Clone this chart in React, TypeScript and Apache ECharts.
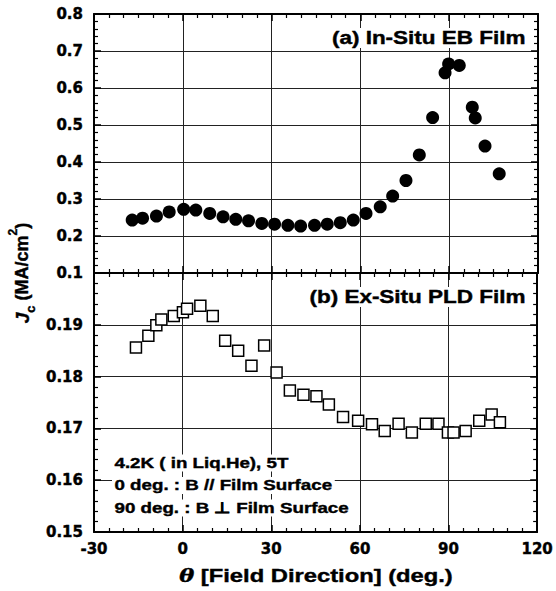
import React, { useEffect, useRef } from "react";
import * as echarts from "echarts";

// (a) In-situ EB film: field angle (deg.) and Jc (MA/cm^2)
const ebAngle = [-17.1, -13.6, -8.9, -4.6, 0.3, 4.4, 9.1, 13.6, 17.9, 22.2, 26.7, 31.0, 35.5, 39.8, 44.5, 48.8, 53.2, 57.6, 61.9, 66.7, 70.9, 75.4, 79.9, 84.4, 88.6, 89.8, 93.4, 97.8, 98.8, 102.1, 106.9];
const ebJc = [0.243, 0.248, 0.254, 0.265, 0.272, 0.27, 0.261, 0.252, 0.245, 0.241, 0.234, 0.232, 0.229, 0.227, 0.229, 0.232, 0.236, 0.243, 0.261, 0.279, 0.308, 0.35, 0.419, 0.52, 0.641, 0.665, 0.661, 0.548, 0.519, 0.443, 0.368];

// (b) Ex-situ PLD film
const pldAngle = [-15.8, -11.6, -8.9, -7.2, -3.0, 0.1, 1.5, 6.0, 10.2, 14.4, 18.8, 23.3, 27.6, 31.8, 36.3, 40.9, 45.3, 49.5, 54.3, 59.4, 64.1, 68.4, 73.1, 77.6, 82.3, 86.6, 89.8, 91.7, 95.8, 100.4, 104.6, 107.4];
const pldJc = [0.1856, 0.1879, 0.1899, 0.191, 0.1917, 0.1924, 0.1931, 0.1937, 0.1917, 0.1869, 0.185, 0.1821, 0.186, 0.1808, 0.1773, 0.1765, 0.1762, 0.1746, 0.1722, 0.1715, 0.1708, 0.1695, 0.1709, 0.1692, 0.1709, 0.1709, 0.1692, 0.1692, 0.1695, 0.1715, 0.1727, 0.1712];

const xTicks = { min: -30, max: 120, interval: 30 };
const topTicks = { min: 0.1, max: 0.8, interval: 0.1 };
const bottomTicks = { min: 0.15, max: 0.2, interval: 0.01 };

const panelLabels = ["(a) In-Situ EB Film", "(b) Ex-Situ PLD Film"];
const noteLines = ["4.2K ( in Liq.He), 5T", "0 deg. : B // Film Surface", "90 deg. : B \u22A5 Film Surface"];
const xTitle = "[Field Direction] (deg.)";

const FONT = "'Liberation Sans', Arial, Helvetica, sans-serif";
const WIDE = "'DejaVu Sans', 'Liberation Sans', sans-serif";
// wide, heavy lettering of the figure
const STRETCH = 1.25;

const axisLine = { show: true, onZero: false, lineStyle: { color: "#000", width: 2 } };
const tick = { show: true, inside: true, length: 7, lineStyle: { color: "#000", width: 1.5 } };
const minor = (n: number) => ({ show: true, splitNumber: n, length: 4, lineStyle: { color: "#000", width: 1.2 } });
const grid = { show: true, lineStyle: { color: "#222", width: 1 } };

function xAxis(gridIndex: number, position: string, labels: boolean, split: boolean) {
  return {
    type: "value",
    gridIndex,
    position,
    ...xTicks,
    axisLine,
    axisTick: tick,
    minorTick: minor(6),
    splitLine: split ? grid : { show: false },
    axisLabel: labels
      ? { show: true, color: "#000", fontFamily: WIDE, fontWeight: "bold", fontSize: 15, margin: 9, textBorderColor: "#000", textBorderWidth: 0.4 }
      : { show: false },
  };
}

function yAxis(gridIndex: number, position: string, range: any, labels: boolean, split: boolean, fmt?: (v: number) => string) {
  return {
    type: "value",
    gridIndex,
    position,
    ...range,
    axisLine,
    axisTick: tick,
    minorTick: minor(5),
    splitLine: split ? grid : { show: false },
    axisLabel: labels
      ? { show: true, color: "#000", fontFamily: WIDE, fontWeight: "bold", fontSize: 15, margin: 11, formatter: fmt, textBorderColor: "#000", textBorderWidth: 0.4 }
      : { show: false },
  };
}

function label(text: string, x: number, y: number, size: number, align: string) {
  return {
    type: "text",
    x,
    y,
    z: 50,
    scaleX: STRETCH,
    style: {
      text,
      fill: "#000",
      font: `bold ${size}px ${FONT}`,
      align,
      verticalAlign: "middle",
      backgroundColor: "#fff",
      padding: [1, 2, 1, 2],
      stroke: "#000",
      lineWidth: 0.4,
    },
  };
}

export default function App() {
  const ref = useRef<HTMLDivElement>(null);

  useEffect(() => {
    if (!ref.current) return;
    const chart = echarts.init(ref.current, null, { renderer: "svg" });
    const left = 94;
    const width = 444;
    const top = 14;
    const h = 259;

    chart.setOption({
      animation: false,
      backgroundColor: "#fff",
      grid: [
        { left, top, width, height: h },
        { left, top: top + h, width, height: h },
      ],
      xAxis: [
        xAxis(0, "bottom", false, true),
        xAxis(0, "top", false, false),
        xAxis(1, "bottom", true, true),
        xAxis(1, "top", false, false),
      ],
      yAxis: [
        yAxis(0, "left", topTicks, true, true, (v: number) => v.toFixed(1)),
        yAxis(0, "right", topTicks, false, false),
        yAxis(1, "left", bottomTicks, true, true, (v: number) => (v > 0.1995 ? "" : v.toFixed(2))),
        yAxis(1, "right", bottomTicks, false, false),
      ],
      series: [
        {
          type: "scatter",
          xAxisIndex: 0,
          yAxisIndex: 0,
          symbol: "circle",
          symbolSize: 13,
          itemStyle: { color: "#000", opacity: 1 },
          data: ebAngle.map((a, i) => [a, ebJc[i]]),
          z: 5,
        },
        {
          type: "scatter",
          xAxisIndex: 2,
          yAxisIndex: 2,
          symbol: "rect",
          symbolSize: 11,
          itemStyle: { color: "#fff", borderColor: "#000", borderWidth: 1.5, opacity: 1 },
          data: pldAngle.map((a, i) => [a, pldJc[i]]),
          z: 5,
        },
      ],
      graphic: [
        label(panelLabels[0], 528, 38, 18, "right"),
        label(panelLabels[1], 528, 297, 18, "right"),
        ...noteLines.map((t, i) => label(t, 112, 463 + i * 22.5, 15, "left")),
        {
          type: "text",
          x: 316,
          y: 576,
          z: 50,
          scaleX: STRETCH,
          style: {
            text: "{i|\u03B8} " + xTitle,
            align: "center",
            verticalAlign: "middle",
            fill: "#000",
            stroke: "#000",
            lineWidth: 0.4,
            rich: {
              i: { fontFamily: "'DejaVu Serif', serif", fontWeight: "bold", fontStyle: "italic", fontSize: 18, fill: "#000" },
            },
            font: `bold 19px ${FONT}`,
          },
        },
        {
          type: "text",
          x: 22,
          y: 273,
          rotation: Math.PI / 2,
          z: 50,
          style: {
            text: "{j|J}{c|c}{t| (MA/cm}{s|2}{t|)}",
            align: "center",
            verticalAlign: "middle",
            fill: "#000",
            stroke: "#000",
            lineWidth: 0.4,
            rich: {
              j: { fontFamily: FONT, fontWeight: "bold", fontStyle: "italic", fontSize: 19, lineHeight: 30, verticalAlign: "middle", fill: "#000" },
              c: { fontFamily: FONT, fontWeight: "bold", fontSize: 13, lineHeight: 30, verticalAlign: "bottom", fill: "#000" },
              t: { fontFamily: FONT, fontWeight: "bold", fontSize: 18, lineHeight: 30, verticalAlign: "middle", fill: "#000" },
              s: { fontFamily: FONT, fontWeight: "bold", fontSize: 12, lineHeight: 30, verticalAlign: "top", fill: "#000" },
            },
          },
        },
      ],
    });
    return () => chart.dispose();
  }, []);

  return (
    <div
      ref={ref}
      style={{ position: "fixed", left: 0, top: 0, width: 556, height: 591, background: "#fff" }}
    />
  );
}
